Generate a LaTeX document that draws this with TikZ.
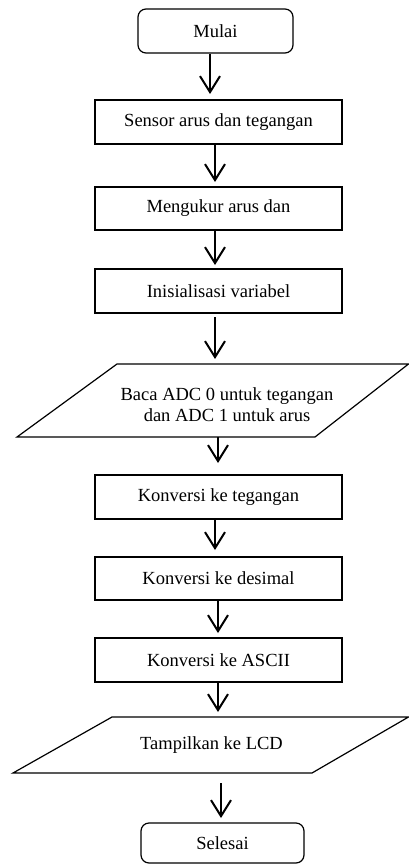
\documentclass[tikz,border=0pt]{standalone}
\usepackage{fontspec}
\setmainfont{Liberation Serif}
\usetikzlibrary{arrows.meta}
\begin{document}
\begin{tikzpicture}[x=1pt,y=-1pt,
  txt/.style={font=\fontsize{18.5}{21}\selectfont, align=center, inner sep=0pt},
  box/.style={txt, draw, line width=1.2pt, minimum width=247pt, minimum height=44pt},
  term/.style={txt, draw, line width=1.2pt, rounded corners=8pt},
  io/.style={line width=1.2pt, line join=miter},
  arr/.style={line width=2pt, -{Straight Barb[length=16pt, width=20pt]}}]
\useasboundingbox (0,0) rectangle (409,864);
% terminals and process boxes
\node[term, minimum width=155pt, minimum height=44pt] (mulai) at (215.5,31) {Mulai};
\node[box] (sensor) at (218.5,122) {Sensor arus dan tegangan};
\node[box, minimum height=43pt] (ukur) at (218.5,208.5) {Mengukur arus dan};
\node[box] (inis) at (218.5,291) {Inisialisasi variabel};
% input parallelogram 1
\coordinate (p1a) at (117,364);
\coordinate (p1b) at (408.5,364);
\coordinate (p1c) at (315,437);
\coordinate (p1d) at (17,437);
\draw[io] (p1a) -- (p1b) -- (p1c) -- (p1d) -- cycle;
\node[txt] (baca) at (227,405) {Baca ADC 0 untuk tegangan\\dan ADC 1 untuk arus};
\node[box] (kteg) at (218.5,497) {Konversi ke tegangan};
\node[box, minimum height=43pt] (kdes) at (218.5,578.5) {Konversi ke desimal};
\node[box] (kasc) at (218.5,660) {Konversi ke ASCII};
% output parallelogram 2
\coordinate (p2a) at (112,717);
\coordinate (p2b) at (408.5,717);
\coordinate (p2c) at (312,773);
\coordinate (p2d) at (13,773);
\draw[io] (p2a) -- (p2b) -- (p2c) -- (p2d) -- cycle;
\node[txt] (tampil) at (211.5,745) {Tampilkan ke LCD};
\node[term, minimum width=163pt, minimum height=40pt] (selesai) at (222.5,843) {Selesai};
% arrow end points
\coordinate (t1) at (210,94);
\coordinate (t2) at (215,182);
\coordinate (t3) at (215,265);
\coordinate (s4) at (215,317);
\coordinate (t4) at (215,359);
\coordinate (s5) at (218,437);
\coordinate (t5) at (218,463);
\coordinate (t6) at (215,550);
\coordinate (t7) at (218,633);
\coordinate (t8) at (218,712);
\coordinate (s9) at (221,783);
\coordinate (t9) at (221,818);
% connectors
\draw[arr] (mulai.south -| t1) -- (t1);
\draw[arr] (sensor.south -| t2) -- (t2);
\draw[arr] (ukur.south -| t3) -- (t3);
\draw[arr] (s4) -- (t4);
\draw[arr] (s5) -- (t5);
\draw[arr] (kteg.south -| t6) -- (t6);
\draw[arr] (kdes.south -| t7) -- (t7);
\draw[arr] (kasc.south -| t8) -- (t8);
\draw[arr] (s9) -- (t9);
\end{tikzpicture}
\end{document}
